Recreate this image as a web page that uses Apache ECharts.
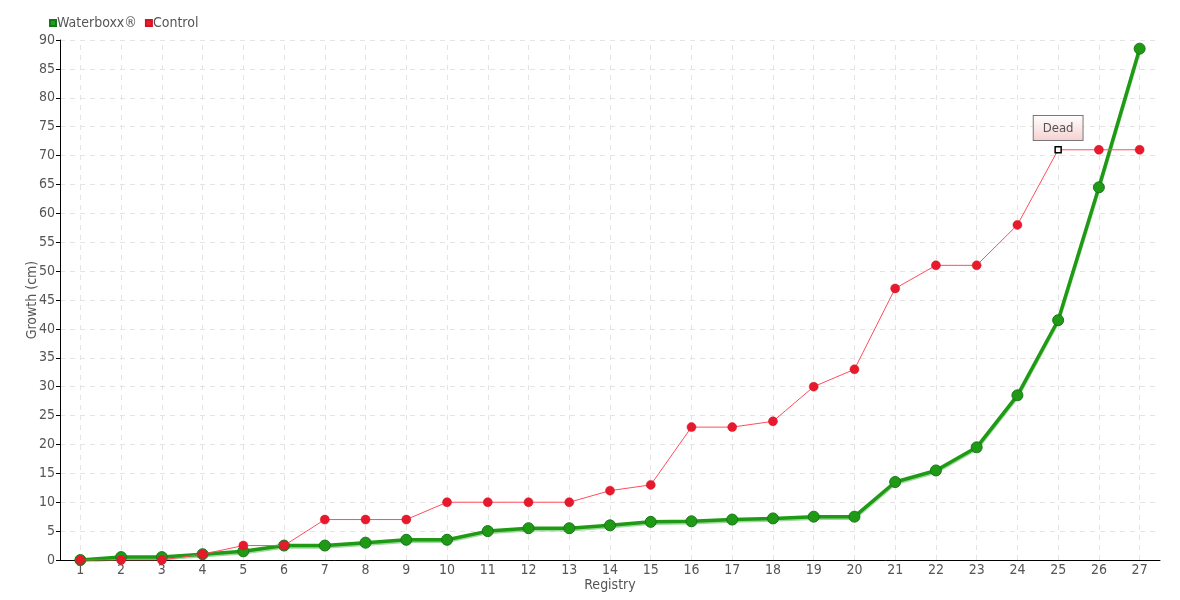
<!DOCTYPE html>
<html>
<head>
<meta charset="utf-8">
<script src="https://cdn.jsdelivr.net/npm/echarts@6/dist/echarts.min.js"></script>
<style>html,body{margin:0;padding:0;background:#fff}#c{width:1180px;height:600px}</style>
</head>
<body>
<div id="c"></div>
<script>
const categories = ['1','2','3','4','5','6','7','8','9','10','11','12','13','14','15','16','17','18','19','20','21','22','23','24','25','26','27'];
const waterboxx = [0,0.5,0.5,1,1.5,2.5,2.5,3,3.5,3.5,5,5.5,5.5,6,6.6,6.7,7,7.2,7.5,7.5,13.5,15.5,19.5,28.5,41.5,64.5,88.5];
const control = [0,0,0,1,2.5,2.5,7,7,7,10,10,10,10,12,13,23,23,24,30,33,47,51,51,58,71,71,71];
const annotationIndex = 24;
const annotationText = 'Dead';
const seriesNames = ['Waterboxx®','Control'];

const FONT = '"DejaVu Sans Condensed","Liberation Sans Narrow","Roboto",sans-serif';
const chart = echarts.init(document.getElementById('c'), null, {renderer:'canvas'});

const controlData = control.map((v,i)=> i===annotationIndex ? {
  value: v,
  symbol: 'rect',
  symbolSize: 6,
  itemStyle: {color:'#fff', borderColor:'#000', borderWidth:1.5},
  label: {
    show: true, position: 'top', distance: 6,
    formatter: annotationText,
    color: '#555', fontFamily: FONT, fontSize: 13,
    backgroundColor: {type:'linear',x:0,y:0,x2:0,y2:1,colorStops:[{offset:0,color:'#ffffff'},{offset:1,color:'#f6d0d0'}]},
    borderColor: '#777', borderWidth: 1,
    padding: [6,9,5,9]
  }
} : v);

// vertical dashed grid lines at category centers
const vLines = categories.map(c => ({xAxis: c}));

chart.setOption({
  animation: false,
  textStyle: {fontFamily: FONT},
  legend: {
    left: 44, top: 11, itemWidth: 6, itemHeight: 6, itemGap: 8,
    textStyle: {fontSize: 14, color: '#555', fontFamily: FONT, padding:[0,0,0,-4]},
    data: [
      {name: seriesNames[0], icon: 'rect', itemStyle:{color:'#1ca11c'}},
      {name: seriesNames[1], icon: 'rect', itemStyle:{color:'#f0182c'}}
    ]
  },
  grid: {left: 60, right: 20, top: 40, bottom: 40},
  xAxis: {
    type: 'category', data: categories, boundaryGap: true,
    name: 'Registry', nameLocation: 'middle', nameGap: 18, nameMoveOverlap: false,
    nameTextStyle: {color:'#555', fontSize: 14, fontFamily: FONT},
    axisLine: {lineStyle:{color:'#000', width:1}},
    axisTick: {alignWithLabel: true, length: 4, lineStyle:{color:'#000'}},
    axisLabel: {color:'#555', fontSize: 14, margin: 3, fontFamily: FONT},
    splitLine: {show: false}
  },
  yAxis: {
    type: 'value', min: 0, max: 90, interval: 5,
    name: 'Growth (cm)', nameLocation: 'middle', nameGap: 21, nameRotate: 90, nameMoveOverlap: false,
    nameTextStyle: {color:'#555', fontSize: 14, fontFamily: FONT},
    axisLine: {show: true, lineStyle:{color:'#000', width:1}},
    axisTick: {show: true, length: 4, lineStyle:{color:'#000'}},
    axisLabel: {color:'#555', fontSize: 14, margin: 5, fontFamily: FONT},
    splitLine: {show: true, lineStyle:{color:'#e4e4e4', type:[5,5]}}
  },
  series: [
    {
      name: seriesNames[0], type: 'line', data: waterboxx,
      symbol: 'circle', symbolSize: 11,
      lineStyle: {color:'#1f9a14', width: 3.5, shadowColor:'rgba(60,180,60,0.5)', shadowBlur:0, shadowOffsetY:1.5},
      itemStyle: {color:'#1f9a14', borderColor:'#17751a', borderWidth:1},
      markLine: {
        silent: true, symbol: ['none','none'], label: {show:false},
        lineStyle: {color:'#e4e4e4', type:[5,5], width:1},
        emphasis: {disabled: true},
        data: vLines, z: 0
      },
      z: 2
    },
    {
      name: seriesNames[1], type: 'line', data: controlData,
      symbol: 'circle', symbolSize: 9,
      lineStyle: {color:'#ff4d5e', width: 1},
      itemStyle: {color:'#e8192c', borderColor:'#d01425', borderWidth:0.5},
      z: 3
    }
  ]
});
</script>
</body>
</html>
